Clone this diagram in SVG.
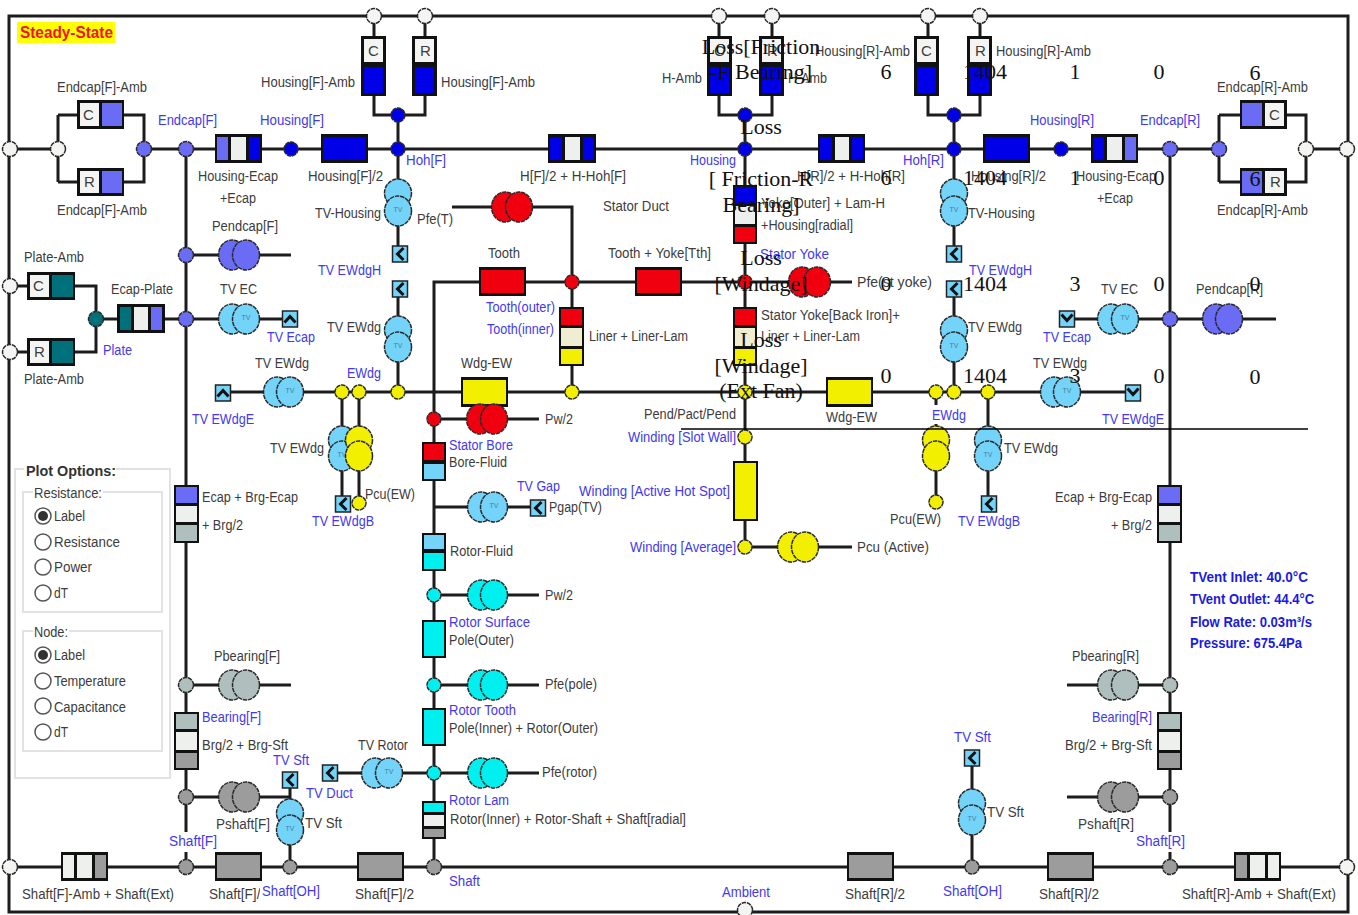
<svg xmlns="http://www.w3.org/2000/svg" width="1358" height="915" viewBox="0 0 1358 915">
<style>
text{font-family:"Liberation Sans",Arial,sans-serif;font-size:14px;fill:#3c3c3c}
.b{fill:#4238f2}
.m{fill:#1a1ae6;font-weight:700}
.t{font-family:"Liberation Serif","Times New Roman",serif;font-size:22px;fill:#111;text-anchor:middle}
.v{font-size:7px;fill:#4a7f98;text-anchor:middle}
.l{font-size:14px;fill:#3c3c3c}
.w{fill:none;stroke:#1c1c1c;stroke-width:3}
.o{fill:#111}
.n{stroke:#2a2a2a;stroke-width:1.5;stroke-dasharray:4.5 .8}
.pe{fill:#6a6cf5}.bl{fill:#0000e8}.te{fill:#00707a}.re{fill:#f0000f}.ye{fill:#f2f000}.lb{fill:#73d3f8}.cy{fill:#00f0f0}.gr{fill:#9c9c9c}.sg{fill:#aebfbd}.wh{fill:#eef0ee}.be{fill:#efeed0}.fr{fill:#f4f5f3}
.lg{fill:#fff;stroke:#e2e2e2;stroke-width:2}
.r{fill:#fff;stroke:#555;stroke-width:1.5}
</style>
<defs>
<g id="kL"><rect x="-7.5" y="-8" width="15" height="16" class="lb" stroke="#222" stroke-width="1.5"/><path d="M3.5-6L-2.5 0L3.5 6" fill="none" stroke="#111" stroke-width="3"/></g>
<g id="kU"><rect x="-7.5" y="-8" width="15" height="16" class="lb" stroke="#222" stroke-width="1.5"/><path d="M-5.500 3.500L0-2.500L5.500 3.500" fill="none" stroke="#111" stroke-width="3"/></g>
<g id="kD"><rect x="-7.5" y="-8" width="15" height="16" class="lb" stroke="#222" stroke-width="1.5"/><path d="M-5.500-4.500L0 1.500L5.500-4.500" fill="none" stroke="#111" stroke-width="3"/></g>
</defs>
<rect width="1358" height="915" fill="#fff"/>
<g id="connectors">
<rect class="w" x="9" y="16" width="1339" height="896"/>
<path class="w" d="M10 149H58M58 115V182M58 115H78M58 182H78M124 115H144V182H124M144 149H1219M1219 115V182M1219 115H1240M1219 182H1240M1286 115H1306V182H1286M1306 149H1347"/>
<path class="w" d="M374 16V36M425 16V36M374 95V115H425V95M398 115V246M398 297V392"/>
<path class="w" d="M719 16V36M772 16V36M719 95V115H772V95M745 115V185M745 244V307M745 366V461M745 520V547H852"/>
<path class="w" d="M928 16V36M980 16V36M928 95V115H980V95M954 115V246M954 297V392"/>
<path class="w" d="M452 207H572V307M572 366V392"/>
<path class="w" d="M852 282H434V867"/>
<path class="w" d="M223 392H1133M342 392V496M359 392V503M936 392V405M936 424V502M988 392V496"/>
<path class="w" d="M186 149V832M186 852V867M1170 149V832M1170 852V867"/>
<path class="w" d="M186 255H291M186 319H290M186 685H291M186 797H290M290 780V867"/>
<path class="w" d="M1067 319H1276M1067 685H1170M1067 797H1170M972 758V867"/>
<path class="w" d="M10 286H96V352H10M96 319H186"/>
<path class="w" d="M434 419H539M434 507H538M434 595H539M434 685H539M330 773H539"/>
<path class="w" d="M10 867H1347"/>
</g>
<g id="steady-state"><rect x="17" y="22" width="98" height="21" fill="#ff0"/><text x="20" y="38" textLength="93" lengthAdjust="spacingAndGlyphs" style="fill:#f0141e;font-weight:700;font-size:16px">Steady-State</text></g>
<g id="plot-options">
<rect class="lg" x="15" y="469" width="155" height="309"/>
<rect class="lg" x="23" y="492" width="139" height="120"/>
<rect class="lg" x="23" y="631" width="139" height="120"/>
<rect x="24" y="462" width="92" height="14" fill="#fff"/><rect x="33" y="486" width="70" height="12" fill="#fff"/><rect x="33" y="625" width="36" height="12" fill="#fff"/>
<text x="26" y="476" textLength="90" lengthAdjust="spacingAndGlyphs" style="font-weight:700;fill:#333">Plot Options:</text>
<text class="l" x="34" y="498" textLength="68" lengthAdjust="spacingAndGlyphs">Resistance:</text>
<circle class="r" cx="43" cy="516" r="8"/><circle cx="43" cy="516" r="5" fill="#333"/>
<circle class="r" cx="43" cy="542" r="8"/><circle class="r" cx="43" cy="567" r="8"/><circle class="r" cx="43" cy="593" r="8"/>
<text class="l" x="54" y="521" textLength="31" lengthAdjust="spacingAndGlyphs">Label</text>
<text class="l" x="54" y="547" textLength="66" lengthAdjust="spacingAndGlyphs">Resistance</text>
<text class="l" x="54" y="572" textLength="38" lengthAdjust="spacingAndGlyphs">Power</text>
<text class="l" x="54" y="598" textLength="14" lengthAdjust="spacingAndGlyphs">dT</text>
<text class="l" x="34" y="637" textLength="34" lengthAdjust="spacingAndGlyphs">Node:</text>
<circle class="r" cx="43" cy="655" r="8"/><circle cx="43" cy="655" r="5" fill="#333"/>
<circle class="r" cx="43" cy="681" r="8"/><circle class="r" cx="43" cy="706" r="8"/><circle class="r" cx="43" cy="732" r="8"/>
<text class="l" x="54" y="660" textLength="31" lengthAdjust="spacingAndGlyphs">Label</text>
<text class="l" x="54" y="686" textLength="72" lengthAdjust="spacingAndGlyphs">Temperature</text>
<text class="l" x="54" y="712" textLength="72" lengthAdjust="spacingAndGlyphs">Capacitance</text>
<text class="l" x="54" y="737" textLength="14" lengthAdjust="spacingAndGlyphs">dT</text>
</g>
<g id="res-endcapF-C"><rect class="o" x="77" y="100" width="47" height="29"/><rect class="fr" x="80" y="103" width="19" height="23"/><rect class="pe" x="102" y="103" width="20" height="23"/><text class="l" x="83" y="120" style="font-size:15px">C</text></g>
<g id="res-endcapF-R"><rect class="o" x="77" y="168" width="47" height="28"/><rect class="fr" x="80" y="171" width="19" height="22"/><rect class="pe" x="102" y="171" width="20" height="22"/><text class="l" x="84" y="187" style="font-size:15px">R</text></g>
<g id="res-endcapR-C"><rect class="o" x="1240" y="100" width="47" height="29"/><rect class="pe" x="1242" y="103" width="20" height="23"/><rect class="fr" x="1265" y="103" width="19" height="23"/><text class="l" x="1269" y="120" style="font-size:15px">C</text></g>
<g id="res-endcapR-R"><rect class="o" x="1240" y="168" width="47" height="28"/><rect class="pe" x="1242" y="171" width="20" height="22"/><rect class="fr" x="1265" y="171" width="19" height="22"/><text class="l" x="1270" y="187" style="font-size:15px">R</text></g>
<g id="res-plate-C"><rect class="o" x="27" y="272" width="48" height="28"/><rect class="fr" x="30" y="275" width="19" height="22"/><rect class="te" x="52" y="275" width="21" height="22"/><text class="l" x="33" y="291" style="font-size:15px">C</text></g>
<g id="res-plate-R"><rect class="o" x="27" y="338" width="48" height="28"/><rect class="fr" x="30" y="341" width="19" height="22"/><rect class="te" x="52" y="341" width="21" height="22"/><text class="l" x="34" y="357" style="font-size:15px">R</text></g>
<g id="res-ecap-plate"><rect class="o" x="117" y="304" width="48" height="29"/><rect class="te" x="120" y="307" width="11" height="23"/><rect class="wh" x="134" y="307" width="14" height="23"/><rect class="pe" x="151" y="307" width="11" height="23"/></g>
<g id="res-housingF-C"><rect class="o" x="361" y="36" width="25" height="60"/><rect class="fr" x="364" y="39" width="19" height="23"/><rect class="bl" x="364" y="67" width="19" height="26"/><text class="l" x="368" y="56" style="font-size:15px">C</text></g>
<g id="res-housingF-R"><rect class="o" x="412" y="36" width="25" height="60"/><rect class="fr" x="415" y="39" width="19" height="23"/><rect class="bl" x="415" y="67" width="19" height="26"/><text class="l" x="420" y="56" style="font-size:15px">R</text></g>
<g id="res-h-C"><rect class="o" x="707" y="36" width="25" height="60"/><rect class="fr" x="710" y="39" width="19" height="23"/><rect class="bl" x="710" y="67" width="19" height="26"/><text class="l" x="714" y="56" style="font-size:15px">C</text></g>
<g id="res-h-R"><rect class="o" x="759" y="36" width="25" height="60"/><rect class="fr" x="762" y="39" width="19" height="23"/><rect class="bl" x="762" y="67" width="19" height="26"/><text class="l" x="767" y="56" style="font-size:15px">R</text></g>
<g id="res-housingR-C"><rect class="o" x="914" y="36" width="25" height="60"/><rect class="fr" x="917" y="39" width="19" height="23"/><rect class="bl" x="917" y="67" width="19" height="26"/><text class="l" x="921" y="56" style="font-size:15px">C</text></g>
<g id="res-housingR-R"><rect class="o" x="967" y="36" width="25" height="60"/><rect class="fr" x="970" y="39" width="19" height="23"/><rect class="bl" x="970" y="67" width="19" height="26"/><text class="l" x="975" y="56" style="font-size:15px">R</text></g>
<g id="res-housing-ecapF"><rect class="o" x="215" y="134" width="47" height="29"/><rect class="pe" x="217" y="137" width="11" height="23"/><rect class="wh" x="231" y="137" width="15" height="23"/><rect class="bl" x="249" y="137" width="11" height="23"/></g>
<g id="res-housingF2"><rect class="o" x="321" y="134" width="47" height="29"/><rect class="bl" x="323" y="137" width="43" height="23"/></g>
<g id="res-hF-hohF"><rect class="o" x="548" y="134" width="48" height="29"/><rect class="bl" x="550" y="137" width="12" height="23"/><rect class="wh" x="565" y="137" width="15" height="23"/><rect class="bl" x="583" y="137" width="11" height="23"/></g>
<g id="res-hR-hohR"><rect class="o" x="818" y="134" width="47" height="29"/><rect class="bl" x="820" y="137" width="12" height="23"/><rect class="wh" x="835" y="137" width="14" height="23"/><rect class="bl" x="852" y="137" width="11" height="23"/></g>
<g id="res-housingR2"><rect class="o" x="983" y="134" width="47" height="29"/><rect class="bl" x="985" y="137" width="43" height="23"/></g>
<g id="res-housing-ecapR"><rect class="o" x="1091" y="134" width="47" height="29"/><rect class="bl" x="1093" y="137" width="11" height="23"/><rect class="wh" x="1107" y="137" width="15" height="23"/><rect class="pe" x="1125" y="137" width="11" height="23"/></g>
<g id="res-yoke-h"><rect class="o" x="733" y="185" width="24" height="59"/><rect class="bl" x="735" y="187" width="20" height="16"/><rect class="wh" x="735" y="206" width="20" height="18"/><rect class="re" x="735" y="227" width="20" height="15"/></g>
<g id="res-tooth"><rect class="o" x="479" y="267" width="47" height="29"/><rect class="re" x="481" y="270" width="43" height="23"/></g>
<g id="res-tooth-yoke"><rect class="o" x="635" y="267" width="47" height="29"/><rect class="re" x="637" y="270" width="43" height="23"/></g>
<g id="res-liner1"><rect class="o" x="559" y="307" width="25" height="59"/><rect class="re" x="561" y="309" width="21" height="16"/><rect class="be" x="561" y="328" width="21" height="18"/><rect class="ye" x="561" y="349" width="21" height="15"/></g>
<g id="res-liner2"><rect class="o" x="733" y="307" width="24" height="59"/><rect class="re" x="735" y="309" width="20" height="16"/><rect class="be" x="735" y="328" width="20" height="18"/><rect class="ye" x="735" y="349" width="20" height="15"/></g>
<g id="res-wdg1"><rect class="o" x="461" y="377" width="47" height="30"/><rect class="ye" x="463" y="380" width="43" height="24"/></g>
<g id="res-wdg2"><rect class="o" x="826" y="377" width="47" height="30"/><rect class="ye" x="828" y="380" width="43" height="24"/></g>
<g id="res-bore"><rect class="o" x="422" y="442" width="24" height="39"/><rect class="re" x="424" y="444" width="20" height="16"/><rect class="lb" x="424" y="464" width="20" height="15"/></g>
<g id="res-rotor-fluid"><rect class="o" x="422" y="533" width="24" height="38"/><rect class="lb" x="424" y="535" width="20" height="14"/><rect class="cy" x="424" y="553" width="20" height="16"/></g>
<g id="res-pole-outer"><rect class="o" x="422" y="620" width="24" height="38"/><rect class="cy" x="424" y="622" width="20" height="34"/></g>
<g id="res-pole-inner"><rect class="o" x="422" y="708" width="24" height="38"/><rect class="cy" x="424" y="710" width="20" height="34"/></g>
<g id="res-rotor-inner"><rect class="o" x="422" y="801" width="24" height="38"/><rect class="cy" x="424" y="803" width="20" height="9"/><rect class="wh" x="424" y="815" width="20" height="11"/><rect class="gr" x="424" y="829" width="20" height="8"/></g>
<g id="res-winding"><rect class="o" x="733" y="461" width="25" height="60"/><rect class="ye" x="735" y="463" width="21" height="56"/></g>
<g id="res-ecapF"><rect class="o" x="174" y="485" width="25" height="58"/><rect class="pe" x="176" y="487" width="21" height="16"/><rect class="wh" x="176" y="506" width="21" height="16"/><rect class="sg" x="176" y="525" width="21" height="16"/></g>
<g id="res-ecapR"><rect class="o" x="1157" y="485" width="25" height="58"/><rect class="pe" x="1159" y="487" width="21" height="16"/><rect class="wh" x="1159" y="506" width="21" height="16"/><rect class="sg" x="1159" y="525" width="21" height="16"/></g>
<g id="res-brgF"><rect class="o" x="174" y="712" width="25" height="58"/><rect class="sg" x="176" y="714" width="21" height="15"/><rect class="wh" x="176" y="732" width="21" height="18"/><rect class="gr" x="176" y="753" width="21" height="15"/></g>
<g id="res-brgR"><rect class="o" x="1157" y="712" width="25" height="58"/><rect class="sg" x="1159" y="714" width="21" height="15"/><rect class="wh" x="1159" y="732" width="21" height="18"/><rect class="gr" x="1159" y="753" width="21" height="15"/></g>
<g id="res-shaftF-amb"><rect class="o" x="61" y="852" width="47" height="29"/><rect class="wh" x="63" y="855" width="11" height="23"/><rect class="wh" x="77" y="855" width="15" height="23"/><rect class="gr" x="95" y="855" width="11" height="23"/></g>
<g id="res-shaftF2a"><rect class="o" x="215" y="852" width="47" height="29"/><rect class="gr" x="217" y="855" width="43" height="23"/></g>
<g id="res-shaftF2b"><rect class="o" x="357" y="852" width="47" height="29"/><rect class="gr" x="359" y="855" width="43" height="23"/></g>
<g id="res-shaftR2a"><rect class="o" x="847" y="852" width="47" height="29"/><rect class="gr" x="849" y="855" width="43" height="23"/></g>
<g id="res-shaftR2b"><rect class="o" x="1047" y="852" width="47" height="29"/><rect class="gr" x="1049" y="855" width="43" height="23"/></g>
<g id="res-shaftR-amb"><rect class="o" x="1234" y="852" width="47" height="29"/><rect class="gr" x="1236" y="855" width="11" height="23"/><rect class="wh" x="1250" y="855" width="15" height="23"/><rect class="wh" x="1268" y="855" width="11" height="23"/></g>
<g id="src-pendcapF"><ellipse class="n pe" cx="232" cy="255" rx="13.500" ry="15"/><ellipse class="n pe" cx="246" cy="255" rx="13.500" ry="15"/></g>
<g id="src-pendcapR"><ellipse class="n pe" cx="1216" cy="319" rx="13.500" ry="15"/><ellipse class="n pe" cx="1229" cy="319" rx="13.500" ry="15"/></g>
<g id="src-pfeT"><ellipse class="n re" cx="505" cy="207" rx="13.500" ry="15"/><ellipse class="n re" cx="519" cy="207" rx="13.500" ry="15"/></g>
<g id="src-pfeYoke"><ellipse class="n re" cx="802" cy="282" rx="13.500" ry="15"/><ellipse class="n re" cx="817" cy="282" rx="13.500" ry="15"/></g>
<g id="src-pw2-stator"><ellipse class="n re" cx="480" cy="419" rx="13.500" ry="15"/><ellipse class="n re" cx="494" cy="419" rx="13.500" ry="15"/></g>
<g id="src-pcu-active"><ellipse class="n ye" cx="791" cy="547" rx="13.500" ry="15"/><ellipse class="n ye" cx="805" cy="547" rx="13.500" ry="15"/></g>
<g id="src-pw2-rotor"><ellipse class="n cy" cx="481" cy="595" rx="13.500" ry="15"/><ellipse class="n cy" cx="494" cy="595" rx="13.500" ry="15"/></g>
<g id="src-pfe-pole"><ellipse class="n cy" cx="481" cy="685" rx="13.500" ry="15"/><ellipse class="n cy" cx="494" cy="685" rx="13.500" ry="15"/></g>
<g id="src-pfe-rotor"><ellipse class="n cy" cx="481" cy="773" rx="13.500" ry="15"/><ellipse class="n cy" cx="494" cy="773" rx="13.500" ry="15"/></g>
<g id="src-pbearingF"><ellipse class="n sg" cx="232" cy="685" rx="13.500" ry="15"/><ellipse class="n sg" cx="246" cy="685" rx="13.500" ry="15"/></g>
<g id="src-pshaftF"><ellipse class="n gr" cx="232" cy="797" rx="13.500" ry="15"/><ellipse class="n gr" cx="246" cy="797" rx="13.500" ry="15"/></g>
<g id="src-pbearingR"><ellipse class="n sg" cx="1111" cy="685" rx="13.500" ry="15"/><ellipse class="n sg" cx="1125" cy="685" rx="13.500" ry="15"/></g>
<g id="src-pshaftR"><ellipse class="n gr" cx="1111" cy="797" rx="13.500" ry="15"/><ellipse class="n gr" cx="1125" cy="797" rx="13.500" ry="15"/></g>
<g id="tv-ec-f"><ellipse class="n lb" cx="232" cy="319" rx="13.500" ry="15"/><ellipse class="n lb" cx="246" cy="319" rx="13.500" ry="15"/><text class="v" x="246" y="320">TV</text></g>
<g id="tv-ewdg-f"><ellipse class="n lb" cx="277" cy="392" rx="13.500" ry="15"/><ellipse class="n lb" cx="290" cy="392" rx="13.500" ry="15"/><text class="v" x="290" y="393">TV</text></g>
<g id="tv-gap"><ellipse class="n lb" cx="481" cy="507" rx="13.500" ry="15"/><ellipse class="n lb" cx="494" cy="507" rx="13.500" ry="15"/><text class="v" x="494" y="508">TV</text></g>
<g id="tv-rotor"><ellipse class="n lb" cx="375" cy="773" rx="13.500" ry="15"/><ellipse class="n lb" cx="389" cy="773" rx="13.500" ry="15"/><text class="v" x="389" y="774">TV</text></g>
<g id="tv-ec-r"><ellipse class="n lb" cx="1111" cy="319" rx="13.500" ry="15"/><ellipse class="n lb" cx="1125" cy="319" rx="13.500" ry="15"/><text class="v" x="1125" y="320">TV</text></g>
<g id="tv-ewdg-r"><ellipse class="n lb" cx="1054" cy="392" rx="13.500" ry="15"/><ellipse class="n lb" cx="1067" cy="392" rx="13.500" ry="15"/><text class="v" x="1067" y="393">TV</text></g>
<g id="tv-housing-f"><ellipse class="n lb" cx="398" cy="193" rx="13.500" ry="14"/><ellipse class="n lb" cx="398" cy="211" rx="13.500" ry="15"/><text class="v" x="398" y="212">TV</text></g>
<g id="tv-housing-r"><ellipse class="n lb" cx="954" cy="193" rx="13.500" ry="14"/><ellipse class="n lb" cx="954" cy="211" rx="13.500" ry="15"/><text class="v" x="954" y="212">TV</text></g>
<g id="tv-ewdg-f2"><ellipse class="n lb" cx="398" cy="330" rx="13.500" ry="14"/><ellipse class="n lb" cx="398" cy="347" rx="13.500" ry="15"/><text class="v" x="398" y="348">TV</text></g>
<g id="tv-ewdg-r2"><ellipse class="n lb" cx="954" cy="330" rx="13.500" ry="14"/><ellipse class="n lb" cx="954" cy="347" rx="13.500" ry="15"/><text class="v" x="954" y="348">TV</text></g>
<g id="tv-ewdg-f3"><ellipse class="n lb" cx="342" cy="440" rx="13.500" ry="14"/><ellipse class="n lb" cx="342" cy="456" rx="13.500" ry="15"/><text class="v" x="342" y="457">TV</text></g>
<g id="src-pcuEW-f"><ellipse class="n ye" cx="359" cy="440" rx="13.500" ry="14"/><ellipse class="n ye" cx="359" cy="456" rx="13.500" ry="15"/></g>
<g id="src-pcuEW-r"><ellipse class="n ye" cx="936" cy="440" rx="13.500" ry="14"/><ellipse class="n ye" cx="936" cy="456" rx="13.500" ry="15"/></g>
<g id="tv-ewdg-r3"><ellipse class="n lb" cx="988" cy="440" rx="13.500" ry="14"/><ellipse class="n lb" cx="988" cy="456" rx="13.500" ry="15"/><text class="v" x="988" y="457">TV</text></g>
<g id="tv-sft-f"><ellipse class="n lb" cx="290" cy="813" rx="13.500" ry="14"/><ellipse class="n lb" cx="290" cy="830" rx="13.500" ry="15"/><text class="v" x="290" y="831">TV</text></g>
<g id="tv-sft-r"><ellipse class="n lb" cx="972" cy="803" rx="13.500" ry="14"/><ellipse class="n lb" cx="972" cy="820" rx="13.500" ry="15"/><text class="v" x="972" y="821">TV</text></g>
<g id="inlets">
<use href="#kL" x="400" y="254"/><use href="#kL" x="400" y="289"/><use href="#kL" x="954" y="254"/><use href="#kL" x="954" y="289"/>
<use href="#kU" x="290" y="319"/><use href="#kU" x="223" y="393"/><use href="#kD" x="1067" y="319"/><use href="#kD" x="1133" y="393"/>
<use href="#kL" x="343" y="504"/><use href="#kL" x="989" y="504"/><use href="#kL" x="538" y="508"/><use href="#kL" x="330" y="773"/><use href="#kL" x="290" y="780"/><use href="#kL" x="972" y="758"/>
</g>
<g id="node-ambient-top"><circle class="n fr" cx="374" cy="16" r="7.500"/><circle class="n fr" cx="425" cy="16" r="7.500"/><circle class="n fr" cx="719" cy="16" r="7.500"/><circle class="n fr" cx="772" cy="16" r="7.500"/><circle class="n fr" cx="928" cy="16" r="7.500"/><circle class="n fr" cx="980" cy="16" r="7.500"/></g>
<g id="node-ambient-side"><circle class="n fr" cx="10" cy="149" r="7.500"/><circle class="n fr" cx="58" cy="149" r="7.500"/><circle class="n fr" cx="10" cy="286" r="7.500"/><circle class="n fr" cx="10" cy="352" r="7.500"/><circle class="n fr" cx="10" cy="867" r="7.500"/><circle class="n fr" cx="1306" cy="149" r="7.500"/><circle class="n fr" cx="1347" cy="149" r="7.500"/><circle class="n fr" cx="1347" cy="867" r="7.500"/><circle class="n fr" cx="745" cy="910" r="7.500"/></g>
<g id="node-endcap"><circle class="n pe" cx="144" cy="149" r="7.500"/><circle class="n pe" cx="186" cy="149" r="7.500"/><circle class="n pe" cx="186" cy="255" r="7.500"/><circle class="n pe" cx="186" cy="319" r="7.500"/><circle class="n pe" cx="1170" cy="149" r="7.500"/><circle class="n pe" cx="1219" cy="149" r="7.500"/><circle class="n pe" cx="1170" cy="319" r="7.500"/></g>
<g id="node-plate"><circle class="n te" cx="96" cy="319" r="7.500"/></g>
<g id="node-housing"><circle class="n bl" cx="291" cy="149" r="7"/><circle class="n bl" cx="398" cy="115" r="7"/><circle class="n bl" cx="398" cy="149" r="7"/><circle class="n bl" cx="745" cy="115" r="7"/><circle class="n bl" cx="745" cy="149" r="7"/><circle class="n bl" cx="954" cy="115" r="7"/><circle class="n bl" cx="954" cy="149" r="7"/><circle class="n bl" cx="1061" cy="149" r="7"/></g>
<g id="node-stator"><circle class="n re" cx="572" cy="282" r="7"/><circle class="n re" cx="745" cy="282" r="7"/><circle class="n re" cx="434" cy="419" r="7"/></g>
<g id="node-winding"><circle class="n ye" cx="342" cy="392" r="7"/><circle class="n ye" cx="359" cy="392" r="7"/><circle class="n ye" cx="398" cy="392" r="7"/><circle class="n ye" cx="572" cy="392" r="7"/><circle class="n ye" cx="745" cy="392" r="7"/><circle class="n ye" cx="936" cy="392" r="7"/><circle class="n ye" cx="954" cy="392" r="7"/><circle class="n ye" cx="988" cy="392" r="7"/><circle class="n ye" cx="359" cy="503" r="7"/><circle class="n ye" cx="936" cy="502" r="7"/><circle class="n ye" cx="745" cy="437" r="7"/><circle class="n ye" cx="745" cy="547" r="7"/></g>
<g id="node-rotor"><circle class="n cy" cx="434" cy="595" r="7"/><circle class="n cy" cx="434" cy="685" r="7"/><circle class="n cy" cx="434" cy="773" r="7"/></g>
<g id="node-bearing"><circle class="n sg" cx="186" cy="685" r="7.500"/><circle class="n sg" cx="1170" cy="685" r="7.500"/></g>
<g id="node-shaft"><circle class="n gr" cx="186" cy="797" r="7.500"/><circle class="n gr" cx="1170" cy="797" r="7.500"/><circle class="n gr" cx="186" cy="867" r="7.500"/><circle class="n gr" cx="290" cy="867" r="7"/><circle class="n gr" cx="434" cy="867" r="7.500"/><circle class="n gr" cx="972" cy="867" r="7"/><circle class="n gr" cx="1170" cy="867" r="7.500"/></g>
<g id="labels">
<text x="57" y="92" textLength="90" lengthAdjust="spacingAndGlyphs">Endcap[F]-Amb</text>
<text x="57" y="215" textLength="90" lengthAdjust="spacingAndGlyphs">Endcap[F]-Amb</text>
<text x="198" y="181" textLength="80" lengthAdjust="spacingAndGlyphs">Housing-Ecap</text>
<text x="220" y="203" textLength="36" lengthAdjust="spacingAndGlyphs">+Ecap</text>
<text x="308" y="181" textLength="75" lengthAdjust="spacingAndGlyphs">Housing[F]/2</text>
<text x="261" y="87" textLength="94" lengthAdjust="spacingAndGlyphs">Housing[F]-Amb</text>
<text x="441" y="87" textLength="94" lengthAdjust="spacingAndGlyphs">Housing[F]-Amb</text>
<text x="212" y="231" textLength="66" lengthAdjust="spacingAndGlyphs">Pendcap[F]</text>
<text x="315" y="218" textLength="66" lengthAdjust="spacingAndGlyphs">TV-Housing</text>
<text x="417" y="224" textLength="36" lengthAdjust="spacingAndGlyphs">Pfe(T)</text>
<text x="662" y="83" textLength="40" lengthAdjust="spacingAndGlyphs">H-Amb</text>
<text x="788" y="83" textLength="39" lengthAdjust="spacingAndGlyphs">H-Amb</text>
<text x="815" y="56" textLength="95" lengthAdjust="spacingAndGlyphs">Housing[R]-Amb</text>
<text x="996" y="56" textLength="95" lengthAdjust="spacingAndGlyphs">Housing[R]-Amb</text>
<text x="520" y="181" textLength="106" lengthAdjust="spacingAndGlyphs">H[F]/2 + H-Hoh[F]</text>
<text x="797" y="181" textLength="108" lengthAdjust="spacingAndGlyphs">H[R]/2 + H-Hoh[R]</text>
<text x="603" y="211" textLength="66" lengthAdjust="spacingAndGlyphs">Stator Duct</text>
<text x="761" y="208" textLength="124" lengthAdjust="spacingAndGlyphs">Yoke[Outer] + Lam-H</text>
<text x="761" y="230" textLength="92" lengthAdjust="spacingAndGlyphs">+Housing[radial]</text>
<text x="488" y="258" textLength="32" lengthAdjust="spacingAndGlyphs">Tooth</text>
<text x="608" y="258" textLength="103" lengthAdjust="spacingAndGlyphs">Tooth + Yoke[Tth]</text>
<text x="857" y="287" textLength="75" lengthAdjust="spacingAndGlyphs">Pfe(st yoke)</text>
<text x="761" y="320" textLength="139" lengthAdjust="spacingAndGlyphs">Stator Yoke[Back Iron]+</text>
<text x="589" y="341" textLength="99" lengthAdjust="spacingAndGlyphs">Liner + Liner-Lam</text>
<text x="761" y="341" textLength="99" lengthAdjust="spacingAndGlyphs">Liner + Liner-Lam</text>
<text x="461" y="368" textLength="51" lengthAdjust="spacingAndGlyphs">Wdg-EW</text>
<text x="545" y="424" textLength="28" lengthAdjust="spacingAndGlyphs">Pw/2</text>
<text x="644" y="419" textLength="92" lengthAdjust="spacingAndGlyphs">Pend/Pact/Pend</text>
<text x="449" y="467" textLength="58" lengthAdjust="spacingAndGlyphs">Bore-Fluid</text>
<text x="549" y="512" textLength="53" lengthAdjust="spacingAndGlyphs">Pgap(TV)</text>
<text x="450" y="556" textLength="63" lengthAdjust="spacingAndGlyphs">Rotor-Fluid</text>
<text x="545" y="600" textLength="28" lengthAdjust="spacingAndGlyphs">Pw/2</text>
<text x="449" y="645" textLength="65" lengthAdjust="spacingAndGlyphs">Pole(Outer)</text>
<text x="545" y="689" textLength="52" lengthAdjust="spacingAndGlyphs">Pfe(pole)</text>
<text x="449" y="733" textLength="149" lengthAdjust="spacingAndGlyphs">Pole(Inner) + Rotor(Outer)</text>
<text x="542" y="777" textLength="55" lengthAdjust="spacingAndGlyphs">Pfe(rotor)</text>
<text x="450" y="824" textLength="236" lengthAdjust="spacingAndGlyphs">Rotor(Inner) + Rotor-Shaft + Shaft[radial]</text>
<text x="358" y="750" textLength="50" lengthAdjust="spacingAndGlyphs">TV Rotor</text>
<text x="220" y="294" textLength="37" lengthAdjust="spacingAndGlyphs">TV EC</text>
<text x="111" y="294" textLength="62" lengthAdjust="spacingAndGlyphs">Ecap-Plate</text>
<text x="24" y="262" textLength="60" lengthAdjust="spacingAndGlyphs">Plate-Amb</text>
<text x="24" y="384" textLength="60" lengthAdjust="spacingAndGlyphs">Plate-Amb</text>
<text x="327" y="332" textLength="54" lengthAdjust="spacingAndGlyphs">TV EWdg</text>
<text x="255" y="368" textLength="54" lengthAdjust="spacingAndGlyphs">TV EWdg</text>
<text x="270" y="453" textLength="54" lengthAdjust="spacingAndGlyphs">TV EWdg</text>
<text x="365" y="499" textLength="50" lengthAdjust="spacingAndGlyphs">Pcu(EW)</text>
<text x="202" y="502" textLength="96" lengthAdjust="spacingAndGlyphs">Ecap + Brg-Ecap</text>
<text x="202" y="530" textLength="41" lengthAdjust="spacingAndGlyphs">+ Brg/2</text>
<text x="214" y="661" textLength="66" lengthAdjust="spacingAndGlyphs">Pbearing[F]</text>
<text x="202" y="750" textLength="86" lengthAdjust="spacingAndGlyphs">Brg/2 + Brg-Sft</text>
<text x="216" y="829" textLength="54" lengthAdjust="spacingAndGlyphs">Pshaft[F]</text>
<text x="305" y="828" textLength="37" lengthAdjust="spacingAndGlyphs">TV Sft</text>
<text x="22" y="899" textLength="152" lengthAdjust="spacingAndGlyphs">Shaft[F]-Amb + Shaft(Ext)</text>
<text x="209" y="899" textLength="59" lengthAdjust="spacingAndGlyphs">Shaft[F]/2</text>
<text x="355" y="899" textLength="59" lengthAdjust="spacingAndGlyphs">Shaft[F]/2</text>
<text x="845" y="899" textLength="60" lengthAdjust="spacingAndGlyphs">Shaft[R]/2</text>
<text x="1039" y="899" textLength="60" lengthAdjust="spacingAndGlyphs">Shaft[R]/2</text>
<text x="1182" y="899" textLength="154" lengthAdjust="spacingAndGlyphs">Shaft[R]-Amb + Shaft(Ext)</text>
<text x="1078" y="829" textLength="56" lengthAdjust="spacingAndGlyphs">Pshaft[R]</text>
<text x="1072" y="661" textLength="67" lengthAdjust="spacingAndGlyphs">Pbearing[R]</text>
<text x="1065" y="750" textLength="87" lengthAdjust="spacingAndGlyphs">Brg/2 + Brg-Sft</text>
<text x="987" y="817" textLength="37" lengthAdjust="spacingAndGlyphs">TV Sft</text>
<text x="1055" y="502" textLength="97" lengthAdjust="spacingAndGlyphs">Ecap + Brg-Ecap</text>
<text x="1111" y="530" textLength="41" lengthAdjust="spacingAndGlyphs">+ Brg/2</text>
<text x="1004" y="453" textLength="54" lengthAdjust="spacingAndGlyphs">TV EWdg</text>
<text x="890" y="524" textLength="51" lengthAdjust="spacingAndGlyphs">Pcu(EW)</text>
<text x="857" y="552" textLength="72" lengthAdjust="spacingAndGlyphs">Pcu (Active)</text>
<text x="826" y="422" textLength="51" lengthAdjust="spacingAndGlyphs">Wdg-EW</text>
<text x="968" y="332" textLength="54" lengthAdjust="spacingAndGlyphs">TV EWdg</text>
<text x="1033" y="368" textLength="54" lengthAdjust="spacingAndGlyphs">TV EWdg</text>
<text x="1101" y="294" textLength="37" lengthAdjust="spacingAndGlyphs">TV EC</text>
<text x="1196" y="294" textLength="67" lengthAdjust="spacingAndGlyphs">Pendcap[R]</text>
<text x="968" y="218" textLength="67" lengthAdjust="spacingAndGlyphs">TV-Housing</text>
<text x="971" y="181" textLength="75" lengthAdjust="spacingAndGlyphs">Housing[R]/2</text>
<text x="1076" y="181" textLength="80" lengthAdjust="spacingAndGlyphs">Housing-Ecap</text>
<text x="1097" y="203" textLength="36" lengthAdjust="spacingAndGlyphs">+Ecap</text>
<text x="1217" y="92" textLength="91" lengthAdjust="spacingAndGlyphs">Endcap[R]-Amb</text>
<text x="1217" y="215" textLength="91" lengthAdjust="spacingAndGlyphs">Endcap[R]-Amb</text>
<text class="b" x="158" y="125" textLength="59" lengthAdjust="spacingAndGlyphs">Endcap[F]</text>
<text class="b" x="260" y="125" textLength="64" lengthAdjust="spacingAndGlyphs">Housing[F]</text>
<text class="b" x="406" y="165" textLength="40" lengthAdjust="spacingAndGlyphs">Hoh[F]</text>
<text class="b" x="690" y="165" textLength="46" lengthAdjust="spacingAndGlyphs">Housing</text>
<text class="b" x="903" y="165" textLength="41" lengthAdjust="spacingAndGlyphs">Hoh[R]</text>
<text class="b" x="1030" y="125" textLength="64" lengthAdjust="spacingAndGlyphs">Housing[R]</text>
<text class="b" x="1140" y="125" textLength="60" lengthAdjust="spacingAndGlyphs">Endcap[R]</text>
<text class="b" x="318" y="275" textLength="63" lengthAdjust="spacingAndGlyphs">TV EWdgH</text>
<text class="b" x="969" y="275" textLength="63" lengthAdjust="spacingAndGlyphs">TV EWdgH</text>
<text class="b" x="760" y="259" textLength="69" lengthAdjust="spacingAndGlyphs">Stator Yoke</text>
<text class="b" x="486" y="312" textLength="69" lengthAdjust="spacingAndGlyphs">Tooth(outer)</text>
<text class="b" x="487" y="334" textLength="67" lengthAdjust="spacingAndGlyphs">Tooth(inner)</text>
<text class="b" x="103" y="355" textLength="29" lengthAdjust="spacingAndGlyphs">Plate</text>
<text class="b" x="267" y="342" textLength="48" lengthAdjust="spacingAndGlyphs">TV Ecap</text>
<text class="b" x="1043" y="342" textLength="48" lengthAdjust="spacingAndGlyphs">TV Ecap</text>
<text class="b" x="347" y="378" textLength="34" lengthAdjust="spacingAndGlyphs">EWdg</text>
<text class="b" x="932" y="420" textLength="34" lengthAdjust="spacingAndGlyphs">EWdg</text>
<text class="b" x="192" y="424" textLength="62" lengthAdjust="spacingAndGlyphs">TV EWdgE</text>
<text class="b" x="1102" y="424" textLength="62" lengthAdjust="spacingAndGlyphs">TV EWdgE</text>
<text class="b" x="449" y="450" textLength="64" lengthAdjust="spacingAndGlyphs">Stator Bore</text>
<text class="b" x="517" y="491" textLength="43" lengthAdjust="spacingAndGlyphs">TV Gap</text>
<text class="b" x="628" y="442" textLength="108" lengthAdjust="spacingAndGlyphs">Winding [Slot Wall]</text>
<text class="b" x="579" y="496" textLength="151" lengthAdjust="spacingAndGlyphs">Winding [Active Hot Spot]</text>
<text class="b" x="630" y="552" textLength="106" lengthAdjust="spacingAndGlyphs">Winding [Average]</text>
<text class="b" x="312" y="526" textLength="62" lengthAdjust="spacingAndGlyphs">TV EWdgB</text>
<text class="b" x="958" y="526" textLength="62" lengthAdjust="spacingAndGlyphs">TV EWdgB</text>
<text class="b" x="449" y="627" textLength="81" lengthAdjust="spacingAndGlyphs">Rotor Surface</text>
<text class="b" x="449" y="715" textLength="67" lengthAdjust="spacingAndGlyphs">Rotor Tooth</text>
<text class="b" x="449" y="805" textLength="60" lengthAdjust="spacingAndGlyphs">Rotor Lam</text>
<text class="b" x="202" y="722" textLength="59" lengthAdjust="spacingAndGlyphs">Bearing[F]</text>
<text class="b" x="1092" y="722" textLength="60" lengthAdjust="spacingAndGlyphs">Bearing[R]</text>
<text class="b" x="273" y="765" textLength="36" lengthAdjust="spacingAndGlyphs">TV Sft</text>
<text class="b" x="306" y="798" textLength="47" lengthAdjust="spacingAndGlyphs">TV Duct</text>
<text class="b" x="954" y="742" textLength="37" lengthAdjust="spacingAndGlyphs">TV Sft</text>
<text class="b" x="169" y="846" textLength="48" lengthAdjust="spacingAndGlyphs">Shaft[F]</text>
<text class="b" x="1136" y="846" textLength="49" lengthAdjust="spacingAndGlyphs">Shaft[R]</text>
<rect x="260" y="884" width="62" height="16" fill="#fff"/>
<text class="b" x="262" y="896" textLength="58" lengthAdjust="spacingAndGlyphs">Shaft[OH]</text>
<text class="b" x="943" y="896" textLength="59" lengthAdjust="spacingAndGlyphs">Shaft[OH]</text>
<text class="b" x="449" y="886" textLength="31" lengthAdjust="spacingAndGlyphs">Shaft</text>
<text class="b" x="722" y="897" textLength="48" lengthAdjust="spacingAndGlyphs">Ambient</text>
<text class="m" x="1190" y="582" textLength="118" lengthAdjust="spacingAndGlyphs">TVent Inlet:  40.0°C</text>
<text class="m" x="1190" y="604" textLength="124" lengthAdjust="spacingAndGlyphs">TVent Outlet: 44.4°C</text>
<text class="m" x="1190" y="627" textLength="122" lengthAdjust="spacingAndGlyphs">Flow Rate: 0.03m³/s</text>
<text class="m" x="1190" y="648" textLength="112" lengthAdjust="spacingAndGlyphs">Pressure: 675.4Pa</text>
</g>
<g id="loss-table">
<path d="M681 429H1308" stroke="#000" stroke-width="1.500" fill="none"/>
<text class="t" x="761" y="54">Loss[Friction</text><text class="t" x="761" y="79">-F Bearing]</text>
<text class="t" x="761" y="134">Loss</text><text class="t" x="761" y="186">[ Friction-R</text><text class="t" x="761" y="212">Bearing]</text>
<text class="t" x="761" y="265">Loss</text><text class="t" x="761" y="291">[Windage]</text>
<text class="t" x="761" y="347">Loss</text><text class="t" x="761" y="373">[Windage]</text><text class="t" x="761" y="398">(Ext Fan)</text>
<text class="t" x="886" y="79">6</text><text class="t" x="985" y="79">1404</text><text class="t" x="1075" y="79">1</text><text class="t" x="1159" y="79">0</text><text class="t" x="1255" y="80">6</text>
<text class="t" x="886" y="185">6</text><text class="t" x="985" y="185">1404</text><text class="t" x="1075" y="185">1</text><text class="t" x="1159" y="185">0</text><text class="t" x="1255" y="186">6</text>
<text class="t" x="886" y="291">0</text><text class="t" x="985" y="291">1404</text><text class="t" x="1075" y="291">3</text><text class="t" x="1159" y="291">0</text><text class="t" x="1255" y="291">0</text>
<text class="t" x="886" y="383">0</text><text class="t" x="985" y="383">1404</text><text class="t" x="1075" y="383">3</text><text class="t" x="1159" y="383">0</text><text class="t" x="1255" y="384">0</text>
</g>
</svg>
